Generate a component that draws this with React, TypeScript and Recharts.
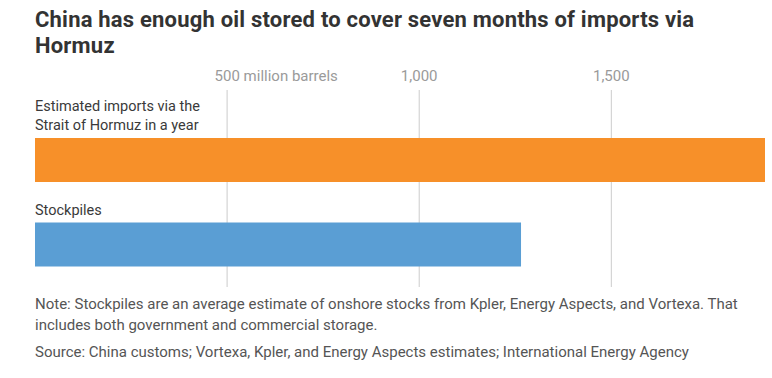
import { BarChart, Bar, XAxis, YAxis, CartesianGrid, Cell, LabelList } from "recharts";

const categories = ["Estimated imports via the\nStrait of Hormuz in a year", "Stockpiles"];
const values = [1900, 1265];
const barColors = ["#F79029", "#5A9ED4"];
const tickValues = [500, 1000, 1500];
const tickLabels = ["500", "1,000", "1,500"];
const unitLabel = "million barrels";

const data = categories.map((name, i) => ({ name, value: values[i] }));

const FONT = "Roboto, 'Noto Sans', sans-serif";
const W = 772;
const LEFT = 35;
const RIGHT = 7;

const TopTick = ({ x, y, payload }: any) => {
  const idx = tickValues.indexOf(payload.value);
  const label = idx >= 0 ? tickLabels[idx] : String(payload.value);
  // first tick carries the unit; its number stays roughly centred on the line
  if (idx === 0) {
    return (
      <text x={x - 12.5} y={y - 1} textAnchor="start" fill="#9a9a9a" fontSize={15} fontFamily={FONT}>
        {`${label} ${unitLabel}`}
      </text>
    );
  }
  return (
    <text x={x} y={y - 1} textAnchor="middle" fill="#9a9a9a" fontSize={15} fontFamily={FONT}>
      {label}
    </text>
  );
};

const BarLabel = ({ x, y, value }: any) => {
  const lines = String(value).split("\n");
  return (
    <text x={x} y={y} fill="#3a3a3a" fontSize={14.5} fontFamily={FONT}>
      {lines.map((line, i) => (
        <tspan key={i} x={x} y={y - 8 - (lines.length - 1 - i) * 19}>
          {line}
        </tspan>
      ))}
    </text>
  );
};

// only the tick lines, not the plot edges
const GridLine = (props: any) => {
  if (props.x1 <= LEFT + 1 || props.x1 >= W - RIGHT - 1) return null;
  return (
    <line key={props.key} x1={props.x1} x2={props.x2} y1={props.y1} y2={props.y2} stroke="#cccccc" strokeWidth={1} />
  );
};

export default function App() {
  return (
    <div
      style={{
        position: "absolute",
        left: 0,
        top: 0,
        width: W,
        height: 378,
        background: "#fff",
        fontFamily: FONT,
        overflow: "hidden",
      }}
    >
      <div
        style={{
          position: "absolute",
          left: 35,
          top: 7,
          fontSize: 22,
          letterSpacing: 0.2,
          lineHeight: "26px",
          fontWeight: 700,
          color: "#333",
          whiteSpace: "nowrap",
        }}
      >
        <div>China has enough oil stored to cover seven months of imports via</div>
        <div>Hormuz</div>
      </div>

      <div style={{ position: "absolute", left: 0, top: 60 }}>
        <BarChart
          width={W}
          height={227}
          data={data}
          layout="vertical"
          margin={{ top: 0, right: RIGHT, bottom: 0, left: LEFT }}
        >
          <CartesianGrid horizontal={false} stroke="#cccccc" vertical={GridLine} />
          <XAxis
            type="number"
            orientation="top"
            domain={[0, "dataMax"]}
            ticks={tickValues}
            height={30}
            axisLine={false}
            tickLine={false}
            tick={<TopTick />}
            interval={0}
          />
          <YAxis type="category" dataKey="name" hide width={0} padding={{ top: 28, bottom: 0 }} />
          <Bar dataKey="value" barSize={44} isAnimationActive={false}>
            {data.map((d, i) => (
              <Cell key={d.name} fill={barColors[i]} />
            ))}
            <LabelList dataKey="name" content={<BarLabel />} />
          </Bar>
        </BarChart>
      </div>

      <div
        style={{
          position: "absolute",
          left: 35,
          top: 294,
          width: 720,
          fontSize: 15,
          lineHeight: "21px",
          color: "#555",
        }}
      >
        Note: Stockpiles are an average estimate of onshore stocks from Kpler, Energy Aspects, and Vortexa. That
        includes both government and commercial storage.
      </div>
      <div
        style={{
          position: "absolute",
          left: 35,
          top: 342,
          fontSize: 15,
          lineHeight: "21px",
          color: "#555",
          whiteSpace: "nowrap",
        }}
      >
        Source: China customs; Vortexa, Kpler, and Energy Aspects estimates; International Energy Agency
      </div>
    </div>
  );
}
